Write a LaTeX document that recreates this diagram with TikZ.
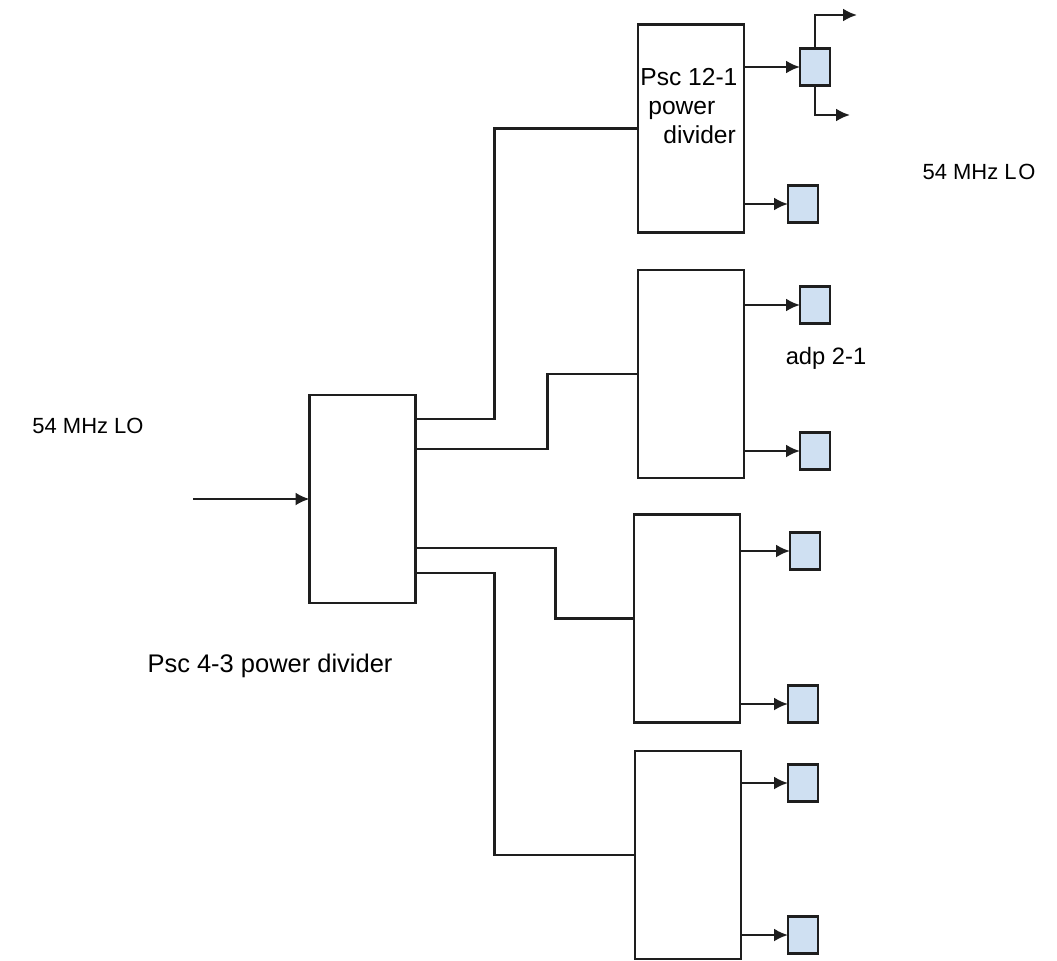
\documentclass[tikz,border=0pt]{standalone}
\usepackage{fontspec}
\setmainfont{Liberation Sans}
\usepackage{tikz}
\usetikzlibrary{arrows.meta,calc}
\definecolor{padblue}{RGB}{207,224,242}
\definecolor{wireblack}{RGB}{30,30,30}

\begin{document}
\begin{tikzpicture}[
  x=0.02cm, y=-0.02cm,
  divbox/.style={rectangle, draw=wireblack, line width=1.4pt, fill=white,
    minimum width=2.12cm, minimum height=4.16cm, inner sep=0pt, outer sep=0pt},
  pad/.style={rectangle, draw=wireblack, line width=1.4pt, fill=padblue,
    minimum width=0.6cm, minimum height=0.74cm, inner sep=0pt, outer sep=0pt},
  wire/.style={line width=1.4pt, draw=wireblack},
  arr/.style={wire, -{Latex[length=2.8mm,width=2.6mm]}},
  lbl/.style={font=\fontsize{12.5}{15}\selectfont, text=black, inner sep=0pt}
]
\useasboundingbox (0,0) rectangle (1057,960);

% power dividers
\node[divbox] (main) at (362.5,499) {};
\node[divbox] (pd1) at (691,128.5) {};
\node[divbox] (pd2) at (691,374) {};
\node[divbox] (pd3) at (687,618.5) {};
\node[divbox] (pd4) at (688,855) {};

% adapters
\node[pad] (a11) at (815,67) {};
\node[pad] (a12) at (803,204) {};
\node[pad] (a21) at (815,305) {};
\node[pad] (a22) at (815,451) {};
\node[pad] (a31) at (805,551) {};
\node[pad] (a32) at (803,704) {};
\node[pad] (a41) at (803,783) {};
\node[pad] (a42) at (803,935) {};

% labels
\node[lbl] (inlbl) at (88,426) {54 MHz LO};
\node[lbl, font=\fontsize{14.5}{17}\selectfont] (mainlbl) at (270,666) {Psc 4-3 power divider};
\node[lbl, font=\fontsize{13.5}{16}\selectfont] (adplbl) at (826,358) {adp 2-1};
\node[lbl] (outlbl) at (979,172) {54 MHz L\kern1pt O};
\node[lbl, font=\fontsize{14}{16.5}\selectfont, align=left, anchor=north west]
  (pd1lbl) at ([xshift=0.04cm,yshift=-0.86cm]pd1.north west)
  {Psc 12-1\\\hspace*{0.16cm}power\\\hspace*{0.46cm}divider};

% input
\coordinate (src) at (193,499);
\draw[arr] (src) -- (main.west);

% main divider to the four dividers
\draw[wire] ($(main.east)+(0,-80)$) -- ++(79,0) |- (pd1.west);
\draw[wire] ($(main.east)+(0,-50)$) -- ++(132,0) |- (pd2.west);
\draw[wire] ($(main.east)+(0,49)$) -- ++(140,0) |- (pd3.west);
\draw[wire] ($(main.east)+(0,74)$) -- ++(79,0) |- (pd4.west);

% dividers to adapters
\draw[arr] (a11.west -| pd1.east) -- (a11.west);
\draw[arr] (a12.west -| pd1.east) -- (a12.west);
\draw[arr] (a21.west -| pd2.east) -- (a21.west);
\draw[arr] (a22.west -| pd2.east) -- (a22.west);
\draw[arr] (a31.west -| pd3.east) -- (a31.west);
\draw[arr] (a32.west -| pd3.east) -- (a32.west);
\draw[arr] (a41.west -| pd4.east) -- (a41.west);
\draw[arr] (a42.west -| pd4.east) -- (a42.west);

% adapter outputs
\coordinate (o1) at (857,15);
\coordinate (o2) at (850,115);
\draw[arr] (a11.north) |- (o1);
\draw[arr] (a11.south) |- (o2);
\end{tikzpicture}
\end{document}
